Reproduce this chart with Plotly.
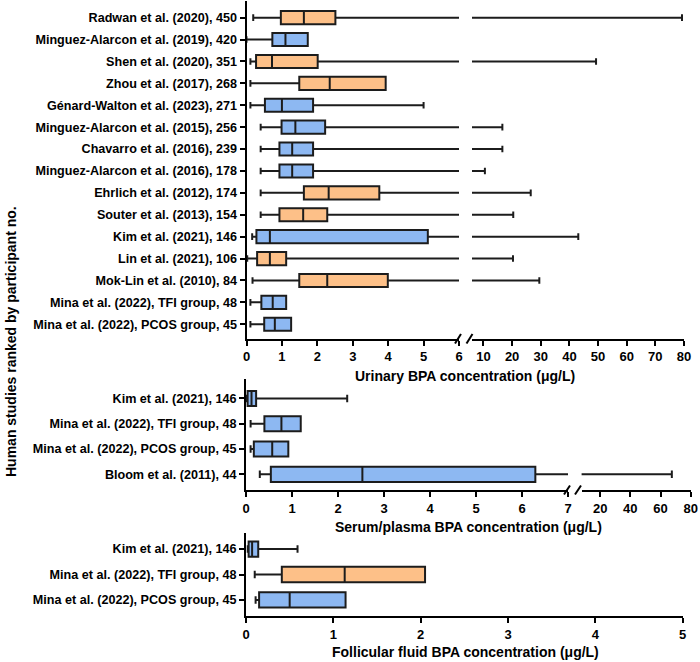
import plotly.graph_objects as go

# ---------------- data ----------------
u_studies = ["Radwan et al. (2020), 450", "Minguez-Alarcon et al. (2019), 420", "Shen et al. (2020), 351",
             "Zhou et al. (2017), 268", "Génard-Walton et al. (2023), 271", "Minguez-Alarcon et al. (2015), 256",
             "Chavarro et al. (2016), 239", "Minguez-Alarcon et al. (2016), 178", "Ehrlich et al. (2012), 174",
             "Souter et al. (2013), 154", "Kim et al. (2021), 146", "Lin et al. (2021), 106",
             "Mok-Lin et al. (2010), 84", "Mina et al. (2022), TFI group, 48", "Mina et al. (2022), PCOS group, 45"]
u_group = ["o", "b", "o", "o", "b", "b", "b", "b", "o", "o", "b", "o", "o", "b", "b"]
u_min = [0.19, 0.00, 0.11, 0.11, 0.11, 0.40, 0.40, 0.40, 0.40, 0.40, 0.16, 0.02, 0.17, 0.11, 0.11]
u_q1 = [0.97, 0.73, 0.27, 1.49, 0.52, 0.99, 0.93, 0.93, 1.62, 0.93, 0.28, 0.30, 1.49, 0.42, 0.50]
u_med = [1.62, 1.10, 0.72, 2.35, 1.00, 1.38, 1.29, 1.29, 2.32, 1.60, 0.66, 0.66, 2.28, 0.74, 0.80]
u_q3 = [2.51, 1.73, 2.01, 3.93, 1.88, 2.22, 1.88, 1.88, 3.75, 2.28, 5.12, 1.12, 3.99, 1.12, 1.26]
u_max = [79.3, 1.73, 49.3, 3.93, 5.00, 16.6, 16.6, 10.5, 26.5, 20.4, 43.1, 20.3, 29.5, 1.12, 1.26]

s_studies = ["Kim et al. (2021), 146", "Mina et al. (2022), TFI group, 48",
             "Mina et al. (2022), PCOS group, 45", "Bloom et al. (2011), 44"]
s_group = ["b", "b", "b", "b"]
s_min = [0.02, 0.10, 0.10, 0.30]
s_q1 = [0.035, 0.40, 0.17, 0.54]
s_med = [0.12, 0.77, 0.57, 2.53]
s_q3 = [0.22, 1.19, 0.92, 6.29]
s_max = [2.20, 1.19, 0.92, 67.5]

f_studies = ["Kim et al. (2021), 146", "Mina et al. (2022), TFI group, 48", "Mina et al. (2022), PCOS group, 45"]
f_group = ["b", "o", "b"]
f_min = [0.02, 0.10, 0.11]
f_q1 = [0.03, 0.41, 0.15]
f_med = [0.07, 1.13, 0.50]
f_q3 = [0.14, 2.05, 1.14]
f_max = [0.59, 2.05, 1.14]

u_ticks1 = [0, 1, 2, 3, 4, 5, 6]
u_ticks2 = [10, 20, 30, 40, 50, 60, 70, 80]
s_ticks1 = [0, 1, 2, 3, 4, 5, 6, 7]
s_ticks2 = [20, 40, 60, 80]
f_ticks = [0, 1, 2, 3, 4, 5]

# ---------------- style ----------------
ORANGE = "#FDC088"
BLUE = "#8DB8F2"
EDGE = "#1c1c1c"
FONT = "Liberation Sans, Arial, sans-serif"
W, H = 700, 662
ML, MR = 246, 8
PW = W - ML - MR


def px(x):
    return (x - ML) / PW


def py(y):
    return 1 - y / H


fig = go.Figure()


def add_boxes(studies, groups, mn, q1, med, q3, mx, xa, ya, lo=None):
    for g, col in (("o", ORANGE), ("b", BLUE)):
        idx = [i for i, gg in enumerate(groups) if gg == g and (lo is None or mx[i] > lo)]
        if not idx:
            continue
        fig.add_trace(go.Box(
            orientation="h",
            y=[studies[i] for i in idx],
            lowerfence=[mn[i] for i in idx],
            q1=[q1[i] for i in idx],
            median=[med[i] for i in idx],
            q3=[q3[i] for i in idx],
            upperfence=[mx[i] for i in idx],
            fillcolor=col,
            line=dict(color=EDGE, width=2),
            width=0.6,
            whiskerwidth=0.5,
            boxpoints=False,
            showlegend=False,
            hoverinfo="skip",
            xaxis=xa, yaxis=ya,
        ))


add_boxes(u_studies, u_group, u_min, u_q1, u_med, u_q3, u_max, "x", "y")
add_boxes(u_studies, u_group, u_min, u_q1, u_med, u_q3, u_max, "x2", "y", lo=6)
add_boxes(s_studies, s_group, s_min, s_q1, s_med, s_q3, s_max, "x3", "y2")
add_boxes(s_studies, s_group, s_min, s_q1, s_med, s_q3, s_max, "x4", "y2", lo=7)
add_boxes(f_studies, f_group, f_min, f_q1, f_med, f_q3, f_max, "x5", "y3")

tickfont = dict(family=FONT, size=13, color="black", weight="bold")
ytickfont = dict(family=FONT, size=12.6, color="black", weight="bold")


def xax(domain, rng, tickvals, anchor):
    return dict(domain=domain, range=rng, tickvals=tickvals, anchor=anchor,
                showline=True, linecolor="black", linewidth=2, ticks="outside",
                ticklen=5, tickwidth=2, tickcolor="black", showgrid=False,
                zeroline=False, tickfont=tickfont, fixedrange=True, automargin=False)


def yax(domain, cats, rng, anchor):
    return dict(domain=domain, type="category", categoryorder="array",
                categoryarray=list(reversed(cats)), range=rng, anchor=anchor,
                showline=True, linecolor="black", linewidth=2, ticks="outside",
                ticklen=5, tickwidth=2, tickcolor="black", showgrid=False,
                zeroline=False, tickfont=ytickfont, fixedrange=True, automargin=False)


fig.update_layout(
    width=W, height=H,
    margin=dict(l=ML, r=MR, t=0, b=0),
    paper_bgcolor="white", plot_bgcolor="white",
    boxmode="overlay",
    font=dict(family=FONT, color="black"),
    xaxis=xax([px(246.5), px(459)], [0, 6], u_ticks1, "y"),
    xaxis2=xax([px(472), px(684)], [6, 80], u_ticks2, "y"),
    xaxis3=xax([px(246), px(568)], [0, 7], s_ticks1, "y2"),
    xaxis4=xax([px(581.6), px(690.7)], [7.7, 80], s_ticks2, "y2"),
    xaxis5=xax([px(246), px(682.7)], [0, 5], f_ticks, "y3"),
    yaxis=yax([py(338.5), py(1)], u_studies, [-0.65, 14.76], "x"),
    yaxis2=yax([py(490), py(379)], s_studies, [-0.62, 3.77], "x3"),
    yaxis3=yax([py(616), py(533)], f_studies, [-0.63, 2.63], "x5"),
)

# axis break marks
shapes = []
for (x0, y0, x1, y1) in [(455, 343.5, 461, 334), (466.5, 343.5, 472.5, 334),
                         (564, 494.5, 570, 485.5), (575, 494.5, 581, 485.5)]:
    shapes.append(dict(type="line", xref="paper", yref="paper",
                       x0=px(x0), y0=py(y0), x1=px(x1), y1=py(y1),
                       line=dict(color="black", width=2)))
fig.update_layout(shapes=shapes)

titlefont = dict(family=FONT, size=14, color="black", weight="bold")
anns = [
    dict(text="Urinary BPA concentration (μg/L)", x=px(465), y=py(376)),
    dict(text="Serum/plasma BPA concentration (μg/L)", x=px(468), y=py(527)),
    dict(text="Follicular fluid BPA concentration (μg/L)", x=px(465), y=py(652)),
]
for a in anns:
    fig.add_annotation(xref="paper", yref="paper", showarrow=False,
                       xanchor="center", yanchor="middle", font=titlefont, **a)
fig.add_annotation(text="Human studies ranked by participant no.", xref="paper", yref="paper",
                   x=px(11), y=py(342), textangle=-90, showarrow=False,
                   xanchor="center", yanchor="middle", font=titlefont)

fig.write_html("out.html", config={"displayModeBar": False},
               post_script="document.body.style.margin='0';")
